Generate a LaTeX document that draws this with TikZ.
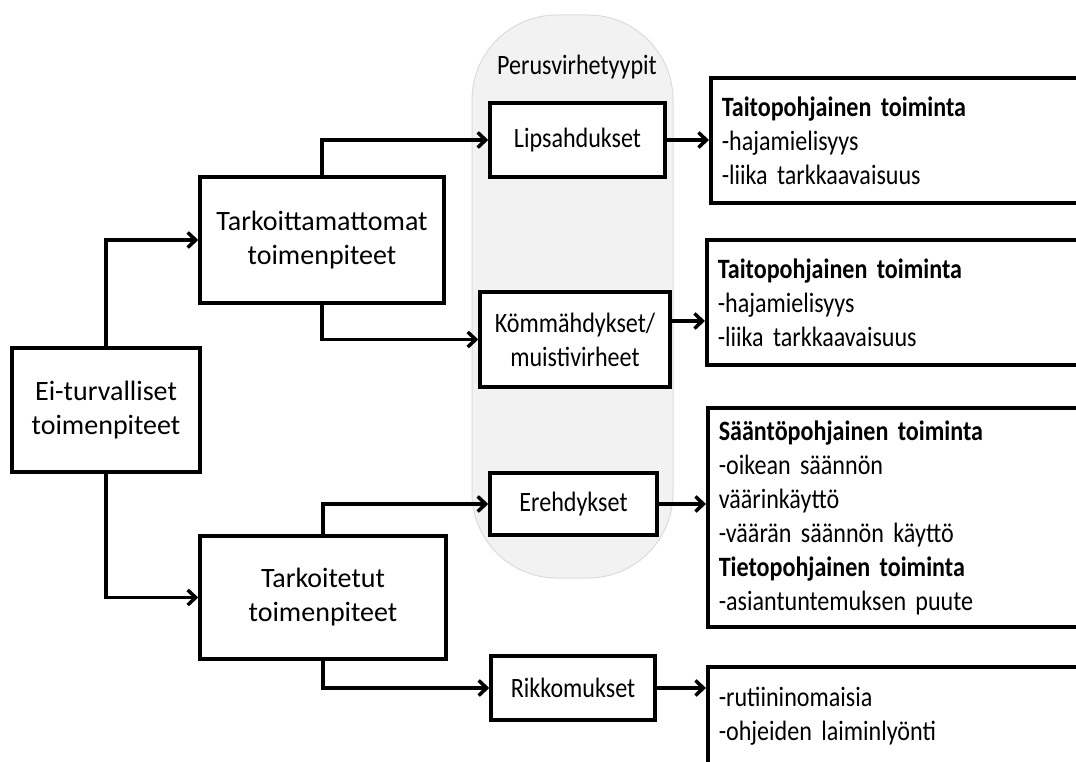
\documentclass[tikz,border=0pt]{standalone}
\usepackage{fontspec}
\setmainfont{Carlito}
\newfontfamily\condfont[FakeStretch=0.86]{Carlito}
\newcommand\tightspace{\spaceskip=4.5pt\relax}
\usetikzlibrary{arrows.meta}
\definecolor{panelgrey}{HTML}{F2F2F2}
\definecolor{panelline}{HTML}{DCDCDC}
\begin{document}
\begin{tikzpicture}[x=1pt,y=-1pt,
  every node/.style={font=\condfont\fontsize{28pt}{34pt}\selectfont\tightspace},
  wide/.style={font=\fontsize{28pt}{34pt}\selectfont},
  box/.style={draw=black,line width=3.5pt,fill=white,align=center,inner sep=0pt},
  rbox/.style={draw=black,line width=3.5pt,fill=white,align=left,anchor=west,
    text width=370pt,inner xsep=11pt,inner ysep=0pt,minimum width=392pt},
  arr/.style={line width=3.5pt,-{Straight Barb[length=8pt,width=15pt]}}]
\useasboundingbox (0,0) rectangle (1076,762);
\clip (0,0) rectangle (1076,762);
\fill[white] (0,0) rectangle (1076,762);
% grey panel
\path[fill=panelgrey,draw=panelline,line width=1pt,rounded corners=85pt]
  (472,15) rectangle (673,578);
\node (title) at (577,67) {Perusvirhetyypit};
% left boxes
\node[box,wide,minimum width=188pt,minimum height=124pt] (ei) at (106,410) {Ei-turvalliset\\toimenpiteet};
\node[box,wide,minimum width=244pt,minimum height=126pt] (tm) at (322,240) {Tarkoittamattomat\\toimenpiteet};
\node[box,wide,minimum width=246pt,minimum height=123pt] (tt) at (323,597.5) {Tarkoitetut\\toimenpiteet};
% middle boxes
\node[box,minimum width=175pt,minimum height=74pt] (lip) at (577.5,140) {Lipsahdukset};
\node[box,minimum width=190pt,minimum height=95pt] (kom) at (575,339.5) {Kömmähdykset/\\muistivirheet};
\node[box,minimum width=167pt,minimum height=62pt] (ere) at (573.5,504) {Erehdykset};
\node[box,minimum width=164pt,minimum height=64pt] (rik) at (573,688) {Rikkomukset};
% right boxes
\node[rbox,minimum height=125pt] (r1) at (709,140.5) {\textbf{Taitopohjainen toiminta}\\-hajamielisyys\\-liika tarkkaavaisuus};
\node[rbox,minimum height=125pt] (r2) at (705,302.5) {\textbf{Taitopohjainen toiminta}\\-hajamielisyys\\-liika tarkkaavaisuus};
\node[rbox,minimum height=219pt] (r3) at (706,517.5) {\textbf{Sääntöpohjainen toiminta}\\-oikean säännön\\väärinkäyttö\\-väärän säännön käyttö\\\textbf{Tietopohjainen toiminta}\\-asiantuntemuksen puute};
\node[rbox,minimum height=99pt] (r4) at (706,716.5) {-rutiininomaisia\\-ohjeiden laiminlyönti};
% connectors
\draw[arr] (ei.north) |- (tm.west);
\draw[arr] (ei.south) |- (tt.west);
\draw[arr] (tm.north) |- (lip.west);
\draw[arr] (tm.south) |- (kom.west);
\draw[arr] (tt.north) |- (ere.west);
\draw[arr] (tt.south) |- (rik.west);
\draw[arr] (lip.east) -- (lip.east -| r1.west);
\draw[arr] ([yshift=18.5pt]kom.east) -- ([yshift=18.5pt]kom.east -| r2.west);
\draw[arr] (ere.east) -- (ere.east -| r3.west);
\draw[arr] (rik.east) -- (rik.east -| r4.west);
\end{tikzpicture}
\end{document}
